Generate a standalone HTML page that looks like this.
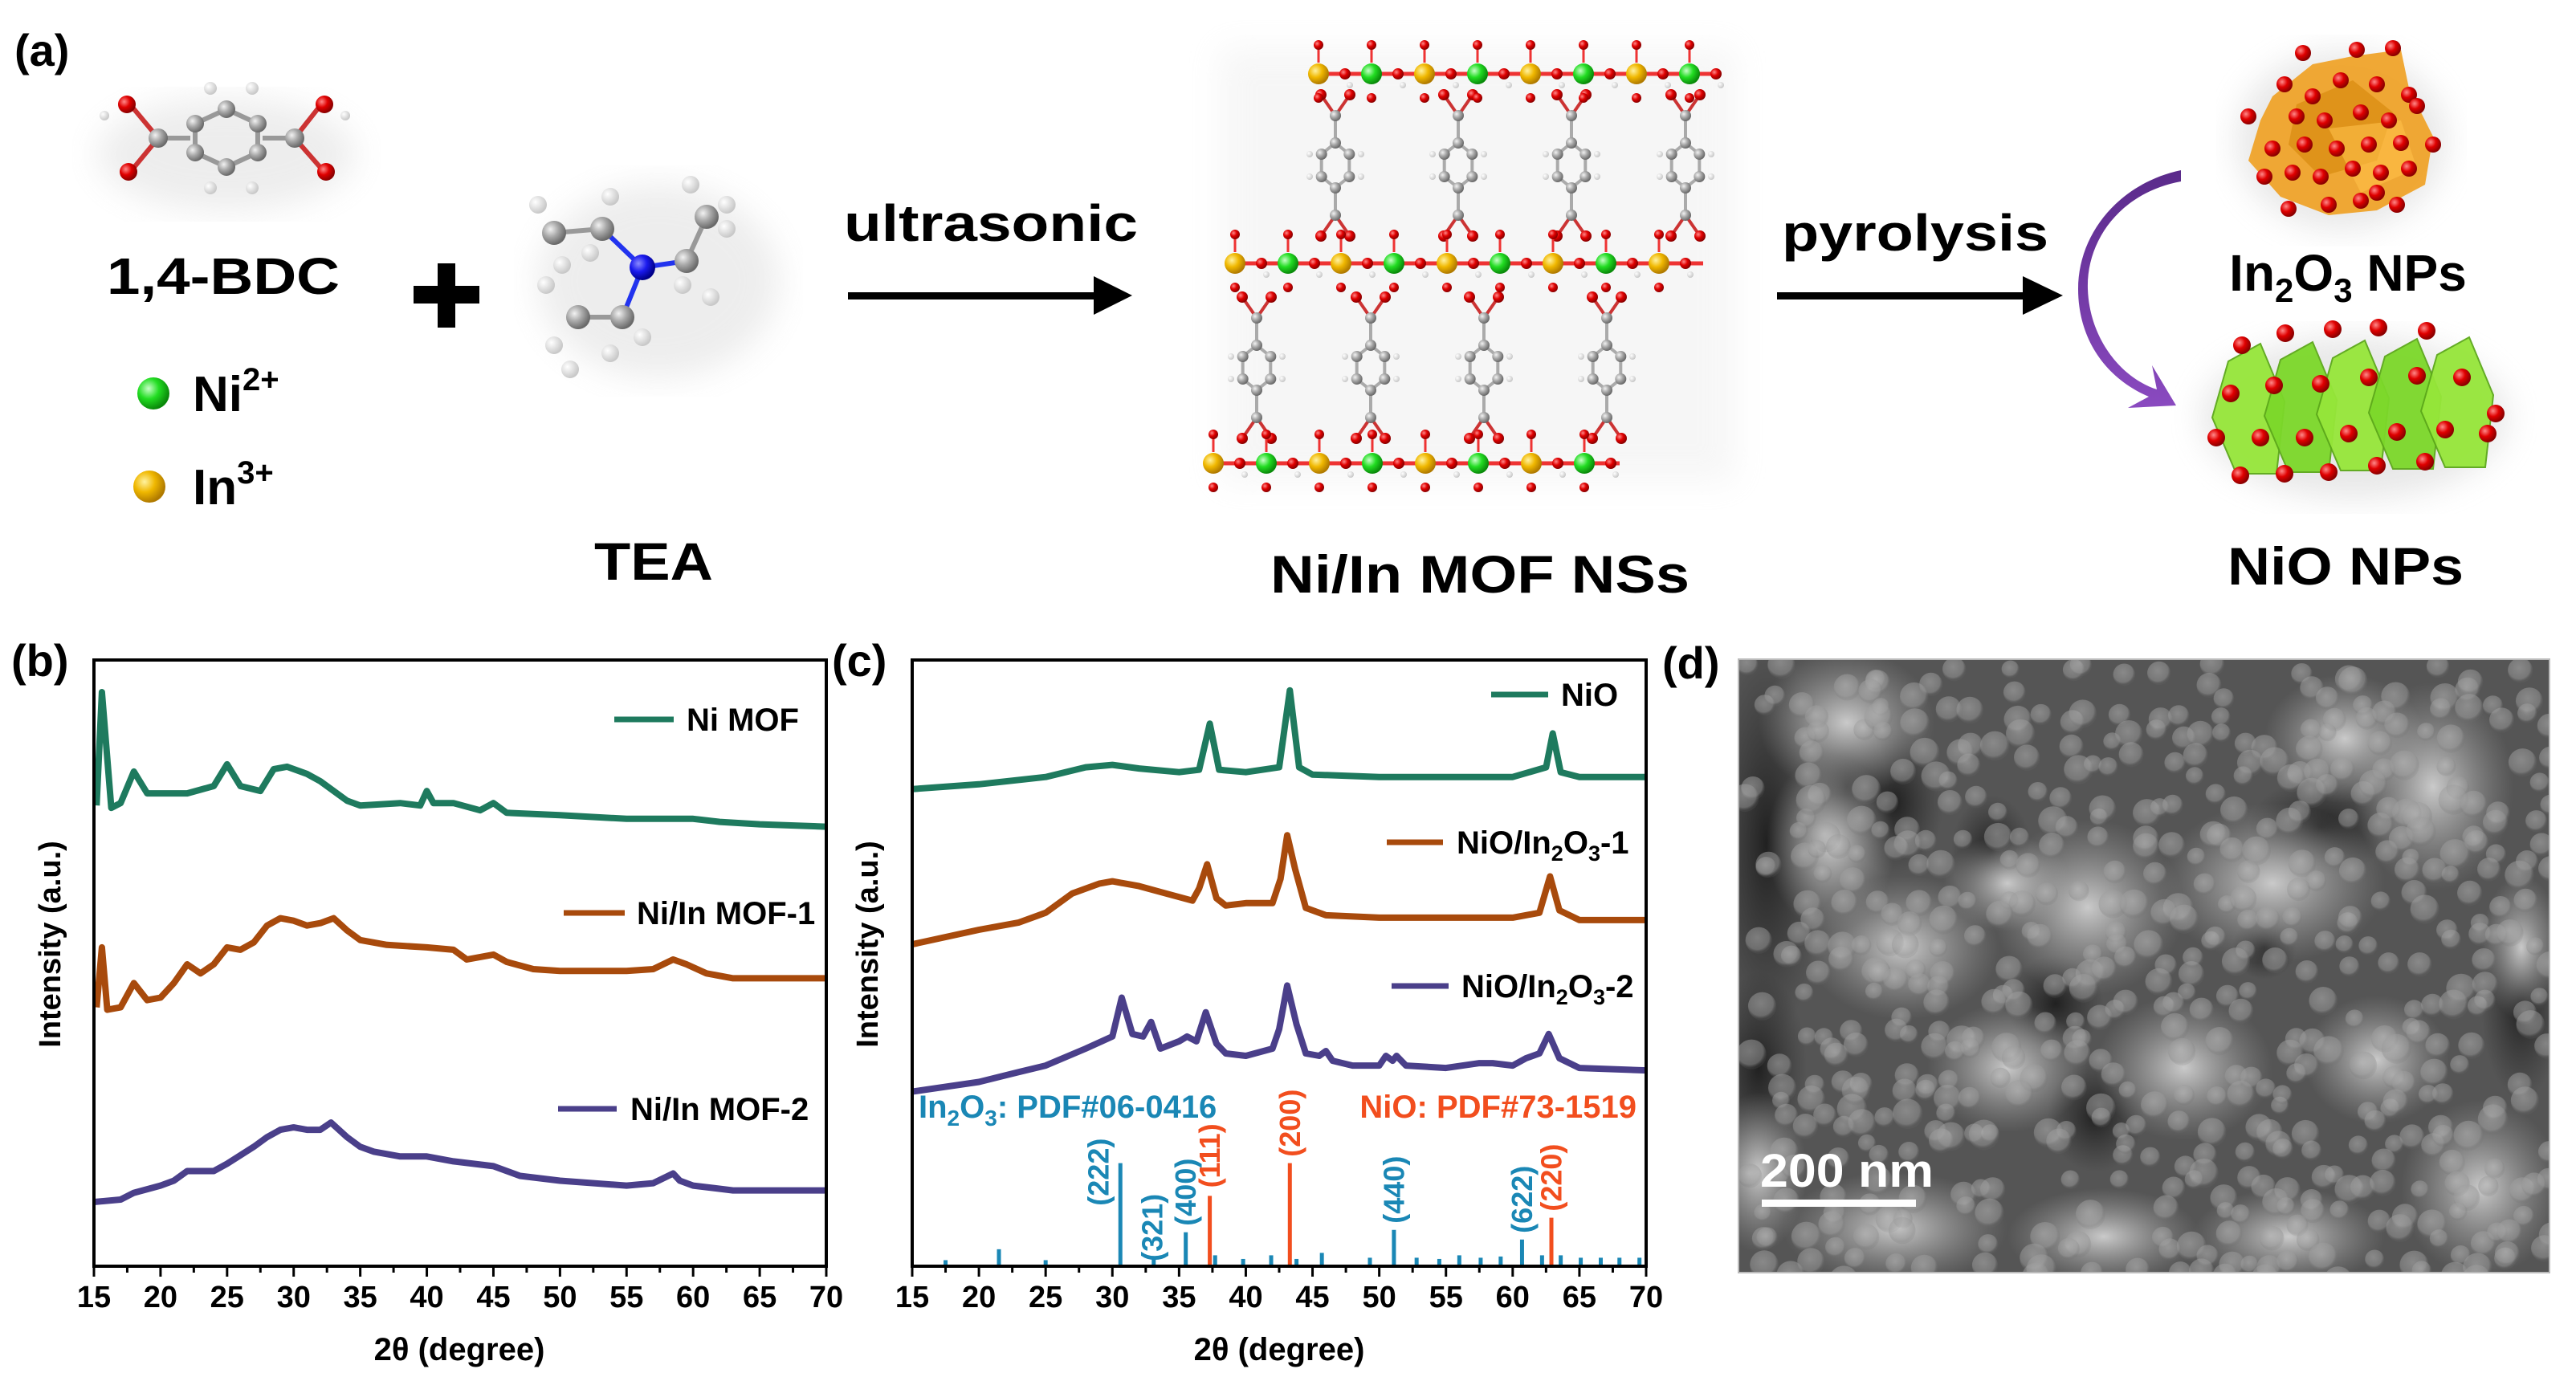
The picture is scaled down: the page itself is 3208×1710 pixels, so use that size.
<!DOCTYPE html>
<html><head><meta charset="utf-8">
<style>
html,body{margin:0;padding:0;background:#fff;}
svg{display:block;font-family:"Liberation Sans",Arial,sans-serif;font-weight:bold;}
</style></head>
<body>
<svg id="fig" width="3208" height="1710" viewBox="0 0 3208 1710" xmlns="http://www.w3.org/2000/svg">
<defs>
<radialGradient id="gGray" cx="35%" cy="35%" r="65%"><stop offset="0" stop-color="#f2f2f2"/><stop offset="0.5" stop-color="#a8a8a8"/><stop offset="1" stop-color="#6a6a6a"/></radialGradient>
<radialGradient id="gRed" cx="35%" cy="35%" r="65%"><stop offset="0" stop-color="#ff8a8a"/><stop offset="0.5" stop-color="#e00000"/><stop offset="1" stop-color="#8a0000"/></radialGradient>
<radialGradient id="gWhite" cx="35%" cy="35%" r="65%"><stop offset="0" stop-color="#ffffff"/><stop offset="1" stop-color="#c8c8c8"/></radialGradient>
<radialGradient id="gGreen" cx="35%" cy="35%" r="65%"><stop offset="0" stop-color="#c8ffc8"/><stop offset="0.5" stop-color="#22dd22"/><stop offset="1" stop-color="#0a8a0a"/></radialGradient>
<radialGradient id="gYellow" cx="35%" cy="35%" r="65%"><stop offset="0" stop-color="#fff2a0"/><stop offset="0.5" stop-color="#f0b800"/><stop offset="1" stop-color="#b07a00"/></radialGradient>
<radialGradient id="gBlue" cx="35%" cy="35%" r="65%"><stop offset="0" stop-color="#8a8aff"/><stop offset="0.5" stop-color="#1a1aee"/><stop offset="1" stop-color="#000088"/></radialGradient>
<radialGradient id="gLight" cx="50%" cy="50%" r="50%"><stop offset="0" stop-color="#d0d0d0" stop-opacity="0.95"/><stop offset="1" stop-color="#a0a0a0" stop-opacity="0"/></radialGradient>
<radialGradient id="gDark" cx="50%" cy="50%" r="50%"><stop offset="0" stop-color="#1e1e1e" stop-opacity="0.95"/><stop offset="1" stop-color="#2a2a2a" stop-opacity="0"/></radialGradient>
<radialGradient id="gPart" cx="45%" cy="40%" r="55%"><stop offset="0" stop-color="#bdbdbd"/><stop offset="0.8" stop-color="#9a9a9a"/><stop offset="1" stop-color="#707070" stop-opacity="0.3"/></radialGradient>
<linearGradient id="gPurple" x1="0" y1="0" x2="0" y2="1"><stop offset="0" stop-color="#5a2a8a"/><stop offset="1" stop-color="#8a4ac0"/></linearGradient>
<filter id="blur8"><feGaussianBlur stdDeviation="8"/></filter>
<filter id="blur20"><feGaussianBlur stdDeviation="20"/></filter>
<clipPath id="semClip"><rect x="2165" y="821" width="1010" height="764"/></clipPath>
<clipPath id="clipB"><rect x="117" y="822" width="912" height="755"/></clipPath>
<clipPath id="clipC"><rect x="1136" y="822" width="914" height="755"/></clipPath>
</defs>

<!-- Panel (a) -->
<g>
<text x="18" y="82" font-size="56">(a)</text>
<g id="bdc"></g>
<text x="278" y="366" font-size="64" text-anchor="middle" textLength="290" lengthAdjust="spacingAndGlyphs">1,4-BDC</text>
<circle cx="191" cy="490" r="20" fill="url(#gGreen)"/>
<text x="240" y="512" font-size="62">Ni<tspan font-size="40" dy="-26">2+</tspan></text>
<circle cx="186" cy="606" r="20" fill="url(#gYellow)"/>
<text x="240" y="628" font-size="62">In<tspan font-size="40" dy="-26">3+</tspan></text>
<g><rect x="515" y="356" width="82" height="22" fill="#000"/><rect x="545" y="328" width="22" height="80" fill="#000"/></g>
<g id="tea"></g>
<text x="814" y="722" font-size="66" text-anchor="middle" textLength="148" lengthAdjust="spacingAndGlyphs">TEA</text>
<text x="1234" y="300" font-size="64" text-anchor="middle" textLength="366" lengthAdjust="spacingAndGlyphs">ultrasonic</text>
<g><rect x="1056" y="364" width="310" height="9" fill="#000"/><polygon points="1362,344 1410,368 1362,392" fill="#000"/></g>
<g id="mof"></g>
<text x="1843" y="738" font-size="66" text-anchor="middle" textLength="522" lengthAdjust="spacingAndGlyphs">Ni/In MOF NSs</text>
<text x="2385" y="312" font-size="64" text-anchor="middle" textLength="332" lengthAdjust="spacingAndGlyphs">pyrolysis</text>
<g><rect x="2213" y="364" width="310" height="9" fill="#000"/><polygon points="2519,344 2569,368 2519,392" fill="#000"/></g>
<path d="M2716,226 C2640,240 2598,300 2600,360 C2602,420 2640,470 2686,485 L2680,455 L2710,505 L2650,508 L2676,494 C2620,470 2588,420 2588,360 C2588,290 2640,228 2716,212 Z" fill="url(#gPurple)"/>
<g id="in2o3"></g>
<text x="2924" y="362" font-size="64" text-anchor="middle">In<tspan font-size="42" dy="14">2</tspan><tspan dy="-14">O</tspan><tspan font-size="42" dy="14">3</tspan><tspan dy="-14"> NPs</tspan></text>
<g id="nio"></g>
<text x="2921" y="728" font-size="66" text-anchor="middle" textLength="294" lengthAdjust="spacingAndGlyphs">NiO NPs</text>
</g>

<!-- Panel (b) -->
<g id="panelB">
<text x="14" y="842" font-size="56">(b)</text>
<text transform="translate(75,1176) rotate(-90)" font-size="38" text-anchor="middle">Intensity (a.u.)</text>
<text x="572" y="1694" font-size="40" text-anchor="middle">2θ  (degree)</text>
<g id="bSeries" clip-path="url(#clipB)"></g>
<g id="bAxis"></g>
<rect x="117" y="822" width="912" height="755" fill="none" stroke="#000" stroke-width="4"/>
<g id="bLegend"></g>
</g>

<!-- Panel (c) -->
<g id="panelC">
<text x="1036" y="842" font-size="56">(c)</text>
<text transform="translate(1093,1176) rotate(-90)" font-size="38" text-anchor="middle">Intensity (a.u.)</text>
<text x="1593" y="1694" font-size="40" text-anchor="middle">2θ (degree)</text>
<g id="cSeries" clip-path="url(#clipC)"></g>
<g id="cRefs"></g>
<g id="cAxis"></g>
<rect x="1136" y="822" width="914" height="755" fill="none" stroke="#000" stroke-width="4"/>
<g id="cLegend"></g>
<text x="1144" y="1392" font-size="40" fill="#1a87b5">In<tspan font-size="28" dy="10">2</tspan><tspan dy="-10">O</tspan><tspan font-size="28" dy="10">3</tspan><tspan dy="-10">: PDF#06-0416</tspan></text>
<text x="2038" y="1392" font-size="40" fill="#f24e1e" text-anchor="end">NiO: PDF#73-1519</text>
</g>

<!-- Panel (d) -->
<g>
<text x="2070" y="845" font-size="56">(d)</text>
<g clip-path="url(#semClip)">
<rect x="2165" y="821" width="1010" height="764" fill="#555"/>
<g id="semBlobs"></g>
</g>
<rect x="2165" y="821" width="1010" height="764" fill="none" stroke="#bbb" stroke-width="2"/>
<text x="2192" y="1478" font-size="58" fill="#fff" textLength="216" lengthAdjust="spacingAndGlyphs">200 nm</text>
<rect x="2194" y="1494" width="192" height="9" fill="#fff"/>
</g>
</svg>

<script>
// ---------- Panel (b) data ----------
const bTickLabels = ["15","20","25","30","35","40","45","50","55","60","65","70"];
const niMofX = [15.2,15.6,16.3,17,18,19,22,24,25,26,27.5,28.5,29.5,31,32,34,35,38,39.5,40,40.5,42,44,45,46,50,55,60,62,65,70];
const niMofY = [76.0,94.7,75.6,76.4,81.6,78.0,78.0,79.2,82.8,79.2,78.4,82.0,82.4,81.2,80.0,76.8,76.0,76.4,76.0,78.4,76.4,76.4,75.2,76.4,74.8,74.4,73.8,73.8,73.3,72.9,72.5];
const mof1X = [15.2,15.6,16,17,18,19,20,21,22,23,24,25,26,27,28,29,30,31,32,33,34,35,37,40,42,43,45,46,48,50,55,57,58.5,59.5,61,63,70];
const mof1Y = [42.7,52.6,42.3,42.7,46.7,43.9,44.3,46.7,49.8,48.3,49.8,52.6,52.2,53.4,56.2,57.4,57.0,56.2,56.6,57.4,55.4,53.8,53.0,52.6,52.2,50.6,51.4,50.2,49.0,48.7,48.7,49.0,50.6,49.8,48.3,47.5,47.5];
const mof2X = [15,17,18,20,21,22,24,25,27,28,29,30,31,32,32.8,34,35,36,38,40,42,45,47,50,55,57,58.5,59,60,63,70];
const mof2Y = [10.6,11.0,12.1,13.3,14.1,15.7,15.7,16.9,19.7,21.3,22.5,22.9,22.5,22.5,23.7,21.3,19.7,18.9,18.1,18.1,17.3,16.5,14.9,14.1,13.3,13.7,15.3,14.1,13.3,12.5,12.5];
const bSeriesNames = ["Ni MOF","Ni/In MOF-1","Ni/In MOF-2"];

// ---------- Panel (c) data ----------
const cTickLabels = ["15","20","25","30","35","40","45","50","55","60","65","70"];
const nioX = [15,20,25,28,30,32,35,36.5,37.3,38,40,42.5,43.3,44,45,50,60,62.5,63,63.6,65,70];
const nioY = [78.7,79.5,80.7,82.3,82.7,82.1,81.5,81.9,89.5,81.9,81.5,82.3,95.0,82.3,81.1,80.7,80.7,82.3,87.9,81.5,80.7,80.7];
const c1X = [15,20,23,25,27,29,30,32,34,36,36.5,37.1,37.8,38.5,40,42,42.6,43.1,43.7,44.5,46,50,60,62,62.8,63.5,65,70];
const c1Y = [53.1,55.5,56.7,58.3,61.5,63.1,63.5,62.7,61.5,60.3,62.3,66.3,60.7,59.5,59.9,59.9,63.9,71.1,65.5,59.1,57.9,57.5,57.5,58.3,64.3,58.7,57.1,57.1];
const c2X = [15,20,22,25,28,30,30.7,31.5,32.3,32.9,33.6,35,35.6,36.3,37,37.8,38.5,40,42,42.5,43.1,43.8,44.5,45.5,46,46.5,48,50,50.5,51,51.3,52,55,57.5,58.5,60,61,62,62.7,63.5,65,70];
const c2Y = [28.8,30.4,31.5,33.1,35.9,37.9,44.3,38.3,37.9,40.3,35.9,37.1,37.9,37.1,41.9,36.7,35.1,34.7,35.9,39.1,46.3,39.9,35.1,34.7,35.5,33.9,33.1,33.1,34.7,33.9,34.7,33.1,32.7,33.5,33.5,33.1,34.3,35.1,38.3,34.3,32.7,32.3];
const cSeriesNames = ["NiO","NiO/In2O3-1","NiO/In2O3-2"];
const in2o3RefX = [17.5,21.5,25,30.6,33.1,35.5,37.7,39.8,41.9,43.8,45.7,49.3,51.1,52.8,54.5,56,57.6,59.1,60.7,62.2,63.6,65.1,66.6,68,69.5];
const in2o3RefH = [1.0,2.8,1.0,17.0,1.2,5.6,1.8,1.2,1.8,1.2,2.2,1.4,6.0,1.4,1.2,1.8,1.4,1.6,4.4,1.8,1.8,1.4,1.4,1.4,1.4];
const in2o3HklX = [30.6,33.1,35.5,51.1,60.7];
const in2o3Hkl = ["(222)","(321)","(400)","(440)","(622)"];
const nioRefX = [37.3,43.3,62.9];
const nioRefH = [11.6,17.0,8.0];
const nioHkl = ["(111)","(200)","(220)"];

const NS = "http://www.w3.org/2000/svg";
const COLORS = ["#1e7a5e","#a84a0c","#4a3f8a"];
function mk(tag, attrs, parent){ const e=document.createElementNS(NS,tag); for(const k in attrs) e.setAttribute(k,attrs[k]); parent.appendChild(e); return e; }

const PLOT_TOP = 822, PLOT_BOT = 1577;
function yScale(v){ return PLOT_BOT - v/100*(PLOT_BOT-PLOT_TOP); }
function xScaleB(v){ return 117 + (v-15)/55*912; }
function xScaleC(v){ return 1136 + (v-15)/55*914; }

function linePath(xs, ys, sx){ return xs.map((x,i)=>(i?"L":"M")+sx(x).toFixed(1)+","+yScale(ys[i]).toFixed(1)).join(" "); }

function drawAxis(g, sx, labels){
  for(let i=0;i<labels.length;i++){
    const v = 15+5*i, x=sx(v);
    const t = mk("line",{x1:x,y1:PLOT_BOT,x2:x,y2:PLOT_BOT+13,stroke:"#000","stroke-width":3},g);
    
    
    const lb = mk("text",{x:x,y:1628,"font-size":38,"text-anchor":"middle"},g);
    lb.textContent = labels[i];
    
    
    if(i<labels.length-1){
      const xm = sx(v+2.5);
      const m = mk("line",{x1:xm,y1:PLOT_BOT,x2:xm,y2:PLOT_BOT+8,stroke:"#000","stroke-width":3},g);
      
      
    }
  }
}

function drawSeries(g, sx, xs, ys, color, name){
  const p = mk("path",{d:linePath(xs,ys,sx),fill:"none",stroke:color,"stroke-width":8,"stroke-linejoin":"round"},g);
  
  
}

function legendEntry(g, x1, x2, y, tx, label, color, sub){
  const l = mk("line",{x1:x1,y1:y,x2:x2,y2:y,stroke:color,"stroke-width":7},g);
  
  
  const t = mk("text",{x:tx,y:y+14,"font-size":40},g);
  
  
  if(sub){
    t.appendChild(document.createTextNode("NiO/In"));
    const s1 = mk("tspan",{"font-size":27,dy:9},t); s1.textContent="2";
    const s2 = mk("tspan",{dy:-9},t); s2.textContent="O";
    const s3 = mk("tspan",{"font-size":27,dy:9},t); s3.textContent="3";
    const s4 = mk("tspan",{dy:-9},t); s4.textContent=label;
  } else t.textContent = label;
}

// Panel b
const bS = document.getElementById("bSeries");
drawSeries(bS, xScaleB, niMofX, niMofY, COLORS[0], "ni-mof-line");
drawSeries(bS, xScaleB, mof1X, mof1Y, COLORS[1], "ni-in-mof-1-line");
drawSeries(bS, xScaleB, mof2X, mof2Y, COLORS[2], "ni-in-mof-2-line");
drawAxis(document.getElementById("bAxis"), xScaleB, bTickLabels);
const bL = document.getElementById("bLegend");
legendEntry(bL, 765, 839, 896, 855, bSeriesNames[0], COLORS[0]);
legendEntry(bL, 702, 778, 1137, 793, bSeriesNames[1], COLORS[1]);
legendEntry(bL, 695, 768, 1381, 785, bSeriesNames[2], COLORS[2]);

// Panel c
const cS = document.getElementById("cSeries");
drawSeries(cS, xScaleC, nioX, nioY, COLORS[0], "nio-line");
drawSeries(cS, xScaleC, c1X, c1Y, COLORS[1], "nio-in2o3-1-line");
drawSeries(cS, xScaleC, c2X, c2Y, COLORS[2], "nio-in2o3-2-line");
drawAxis(document.getElementById("cAxis"), xScaleC, cTickLabels);
const cL = document.getElementById("cLegend");
legendEntry(cL, 1857, 1928, 865, 1944, cSeriesNames[0], COLORS[0]);
legendEntry(cL, 1727, 1797, 1049, 1814, "-1", COLORS[1], true);
legendEntry(cL, 1733, 1804, 1228, 1820, "-2", COLORS[2], true);

const cR = document.getElementById("cRefs");
function refStick(x, h, color, name){
  const X = xScaleC(x);
  const l = mk("line",{x1:X,y1:PLOT_BOT,x2:X,y2:yScale(h),stroke:color,"stroke-width":5},cR);
  
  
}
function hklLabel(x, h, text, color){
  let dx = 0, dy = -50;
  if(text==="(222)"){ dx = -27; dy = 11; }
  if(text==="(321)"){ dx = -2; dy = -39; }
  const X = xScaleC(x) + dx, Y = yScale(h) + dy;
  const t = mk("text",{transform:"translate("+X.toFixed(1)+","+Y.toFixed(1)+") rotate(-90)","font-size":36,fill:color,"text-anchor":"middle","dominant-baseline":"central"},cR);
  t.textContent = text;
  
  
}
in2o3RefX.forEach((x,i)=>refStick(x,in2o3RefH[i],"#1a87b5","in2o3-reference-stick"));
nioRefX.forEach((x,i)=>refStick(x,nioRefH[i],"#f24e1e","nio-reference-stick"));
in2o3HklX.forEach((x,i)=>{ const k=in2o3RefX.indexOf(x); hklLabel(x, in2o3RefH[k], in2o3Hkl[i], "#1a87b5"); });
nioRefX.forEach((x,i)=>hklLabel(x, nioRefH[i], nioHkl[i], "#f24e1e"));

// ---------- Illustrations (panel a) ----------
function atom(g,x,y,r,fill){ mk("circle",{cx:x,cy:y,r:r,fill:"url(#"+fill+")"},g); }
function bond(g,x1,y1,x2,y2,c,w){ mk("line",{x1:x1,y1:y1,x2:x2,y2:y2,stroke:c||"#999","stroke-width":w||6},g); }

(function(){
  const g=document.getElementById("bdc"); const cx=282, cy=172, R=36;
  mk("ellipse",{cx:cx,cy:cy+20,rx:160,ry:70,fill:"#ccc",opacity:0.35,filter:"url(#blur20)"},g);
  const pts=[]; for(let i=0;i<6;i++){const a=Math.PI/6+i*Math.PI/3; pts.push([cx+R*Math.cos(a)*1.25, cy+R*Math.sin(a)]);}
  for(let i=0;i<6;i++){const p=pts[i],q=pts[(i+1)%6]; bond(g,p[0],p[1],q[0],q[1]);}
  bond(g,cx-45,cy,cx-85,cy); bond(g,cx+45,cy,cx+85,cy);
  bond(g,cx-85,cy,cx-120,cy-42,"#c33"); bond(g,cx-85,cy,cx-118,cy+40,"#c33");
  bond(g,cx+85,cy,cx+118,cy-42,"#c33"); bond(g,cx+85,cy,cx+120,cy+40,"#c33");
  [[cx-20,cy-62],[cx+32,cy-62],[cx-20,cy+62],[cx+32,cy+62]].forEach(h=>atom(g,h[0],h[1],8,"gWhite"));
  pts.forEach(p=>atom(g,p[0],p[1],11,"gGray"));
  atom(g,cx-85,cy,12,"gGray"); atom(g,cx+85,cy,12,"gGray");
  atom(g,cx-124,cy-42,11,"gRed"); atom(g,cx-122,cy+42,11,"gRed");
  atom(g,cx+122,cy-42,11,"gRed"); atom(g,cx+124,cy+42,11,"gRed");
  atom(g,cx-152,cy-28,6,"gWhite"); atom(g,cx+148,cy-28,6,"gWhite");
})();

(function(){
  const g=document.getElementById("tea");
  mk("ellipse",{cx:820,cy:350,rx:150,ry:120,fill:"#ccc",opacity:0.35,filter:"url(#blur20)"},g);
  const N=[800,333];
  const C=[[750,285],[690,290],[855,325],[880,270],[775,395],[720,395]];
  bond(g,N[0],N[1],C[0][0],C[0][1],"#2233ee"); bond(g,C[0][0],C[0][1],C[1][0],C[1][1]);
  bond(g,N[0],N[1],C[2][0],C[2][1],"#2233ee"); bond(g,C[2][0],C[2][1],C[3][0],C[3][1]);
  bond(g,N[0],N[1],C[4][0],C[4][1],"#2233ee"); bond(g,C[4][0],C[4][1],C[5][0],C[5][1]);
  const H=[[670,255],[700,330],[760,245],[735,315],[860,230],[905,255],[905,285],[850,355],[885,370],[800,420],[760,440],[690,430],[710,460],[680,355]];
  H.forEach(h=>atom(g,h[0],h[1],11,"gWhite"));
  C.forEach(c=>atom(g,c[0],c[1],15,"gGray"));
  atom(g,N[0],N[1],16,"gBlue");
})();

(function(){
  const g=document.getElementById("mof");
  mk("rect",{x:1520,y:60,width:640,height:540,fill:"#ddd",opacity:0.25,filter:"url(#blur20)"},g);
  function ring(cx,cy){
    const pts=[]; for(let i=0;i<6;i++){const a=i*Math.PI/3; pts.push([cx+20*Math.sin(a), cy+28*Math.cos(a)]);}
    for(let i=0;i<6;i++){const p=pts[i],q=pts[(i+1)%6]; bond(g,p[0],p[1],q[0],q[1],"#aaa",4);}
    bond(g,cx,cy-28,cx,cy-62,"#aaa",4); bond(g,cx,cy+28,cx,cy+62,"#aaa",4);
    bond(g,cx,cy-62,cx-18,cy-88,"#c33",4); bond(g,cx,cy-62,cx+18,cy-88,"#c33",4);
    bond(g,cx,cy+62,cx-18,cy+88,"#c33",4); bond(g,cx,cy+62,cx+18,cy+88,"#c33",4);
    pts.forEach(p=>atom(g,p[0],p[1],7,"gGray"));
    [[-32,-14],[32,-14],[-32,14],[32,14]].forEach(d=>atom(g,cx+d[0],cy+d[1],4,"gWhite"));
    atom(g,cx,cy-62,7,"gGray"); atom(g,cx,cy+62,7,"gGray");
    atom(g,cx-18,cy-88,7,"gRed"); atom(g,cx+18,cy-88,7,"gRed");
    atom(g,cx-18,cy+88,7,"gRed"); atom(g,cx+18,cy+88,7,"gRed");
  }
  function chain(x0,x1,y){
    bond(g,x0,y,x1,y,"#e33",5);
    let k=0;
    for(let x=x0;x<=x1;x+=33,k++){
      if(k%2===0){ atom(g,x,y,13,(k%4===0)?"gYellow":"gGreen"); bond(g,x,y-14,x,y-34,"#e33",3); atom(g,x,y-36,6,"gRed"); atom(g,x,y+30,6,"gRed"); }
      else { atom(g,x,y,7,"gRed"); atom(g,x+6,y+14,4,"gWhite"); }
    }
  }
  [1663,1816,1957,2099].forEach(x=>ring(x,206));
  [1565,1707,1848,2001].forEach(x=>ring(x,458));
  chain(1642,2143,92); chain(1538,2121,328); chain(1511,2017,577);
})();

(function(){
  const g=document.getElementById("in2o3");
  mk("ellipse",{cx:2916,cy:175,rx:130,ry:110,fill:"#bbb",opacity:0.35,filter:"url(#blur20)"},g);
  mk("polygon",{points:"2830,120 2880,80 2930,70 2990,62 3000,110 3030,170 3020,230 2960,262 2900,268 2840,245 2800,200 2815,150",fill:"#f0a020",opacity:0.9},g);
  mk("polygon",{points:"2860,130 2930,100 2980,140 2960,200 2890,220 2850,180",fill:"#d98a10",opacity:0.7},g);
  mk("polygon",{points:"2900,160 2990,150 3010,210 2940,240",fill:"#ffc04a",opacity:0.6},g);
  const O=[[2868,66],[2935,62],[2980,60],[2845,105],[2880,120],[2915,100],[2960,105],[3000,118],[2800,145],[2860,145],[2895,150],[2940,140],[2975,150],[3010,132],[2830,185],[2870,180],[2910,185],[2950,180],[2990,178],[3030,180],[2855,215],[2890,220],[2930,210],[2965,215],[3000,210],[2850,260],[2900,255],[2940,250],[2985,255],[2820,220],[2960,240]];
  O.forEach(o=>atom(g,o[0],o[1],10,"gRed"));
})();

(function(){
  const g=document.getElementById("nio");
  mk("ellipse",{cx:2932,cy:520,rx:190,ry:100,fill:"#bbb",opacity:0.35,filter:"url(#blur20)"},g);
  for(let i=0;i<5;i++){
    const x=2775+i*65, y=440+i*(-2);
    mk("polygon",{points:(x)+","+(y+10)+" "+(x+40)+","+(y-12)+" "+(x+70)+","+(y+60)+" "+(x+60)+","+(y+150)+" "+(x+10)+","+(y+150)+" "+(x-20)+","+(y+80),fill:i%2?"#7cd82a":"#96e63a",stroke:"#5ca81a","stroke-width":2,opacity:0.95},g);
  }
  const O=[[2792,430],[2846,415],[2905,410],[2962,408],[3022,412],[3108,515],[2778,490],[2832,480],[2890,478],[2950,470],[3010,468],[3066,470],[2760,545],[2815,545],[2870,545],[2925,540],[2985,538],[3045,535],[3098,540],[2790,592],[2845,590],[2900,588],[2960,580],[3020,575]];
  O.forEach(o=>atom(g,o[0],o[1],11,"gRed"));
})();

// SEM texture (decorative, hashed scatter)
(function(){
  const g=document.getElementById("semBlobs");
  function hash(a,b,s){ const v=Math.sin(a*12.9898+b*78.233+s*37.719)*43758.5453; return v-Math.floor(v); }
  const dark=[[2200,1050,70,250],[2300,980,50,80],[2360,1000,60,90],[2890,1030,90,60],[2190,1330,60,120],[2610,1390,60,70],[3140,1250,50,120],[2820,1180,40,40],[2560,1250,60,60],[2480,1060,50,70]];
  dark.forEach(d=>mk("ellipse",{cx:d[0],cy:d[1],rx:d[2],ry:d[3],fill:"url(#gDark)"},g));
  const light=[[2300,900,110,90],[2280,1050,80,110],[2370,1180,120,90],[2920,920,100,80],[3030,980,100,130],[3140,1180,50,90],[2600,1130,120,110],[2830,1100,140,100],[2500,1100,80,60],[2360,1530,140,70],[2620,1540,120,60],[2850,1540,120,60],[3090,1480,100,110],[2720,1330,110,90],[2500,1330,100,80],[2960,1320,90,80],[2190,1460,60,100]];
  light.forEach(d=>mk("ellipse",{cx:d[0],cy:d[1],rx:d[2],ry:d[3],fill:"url(#gLight)"},g));
  for(let j=0;j<28;j++){
    for(let i=0;i<36;i++){
      const h1=hash(i,j,1), h2=hash(i,j,2), h3=hash(i,j,3), h4=hash(i,j,4);
      if(h4<0.6){
        const cx=2170+i*28+h1*28, cy=825+j*28+h2*28;
        mk("circle",{cx:cx.toFixed(1),cy:cy.toFixed(1),r:(11+h3*8).toFixed(1),fill:"url(#gPart)",opacity:0.5},g);
      }
    }
  }
})();
</script>
</body></html>
